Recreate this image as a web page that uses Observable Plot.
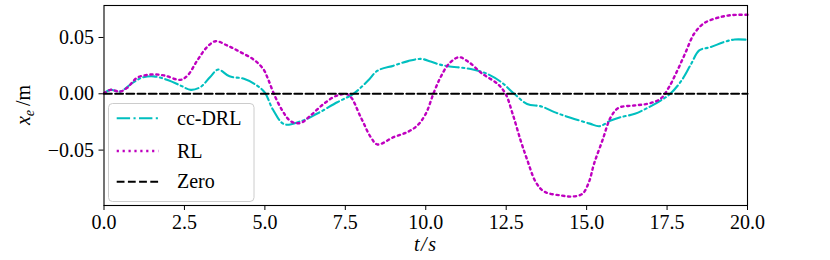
<!DOCTYPE html>
<html>
<head>
<meta charset="utf-8">
<script src="https://cdn.jsdelivr.net/npm/d3@7"></script>
<script src="https://cdn.jsdelivr.net/npm/@observablehq/plot@0.6"></script>
<style>
  html, body { margin: 0; padding: 0; background: white; }
</style>
</head>
<body>
<div id="chart"></div>
<script>
// ---- data ----
const ccT = [0, 0.2, 0.5, 0.9, 1.2, 1.55, 2.0, 2.4, 2.7, 3.0, 3.3, 3.55, 3.9, 4.35, 4.75, 5.0, 5.25, 5.6, 6.1, 6.6, 7.25, 7.75, 8.2, 8.5, 9.0, 9.45, 9.85, 10.15, 10.4, 10.7, 11.4, 11.9, 12.35, 12.75, 13.15, 13.6, 14.0, 14.5, 15.1, 15.4, 15.75, 16.05, 16.5, 16.9, 17.3, 17.6, 17.95, 18.25, 18.5, 18.85, 19.25, 19.6, 20.0];
const ccV = [0.0005, 0.0035, 0.002, 0.010, 0.0145, 0.0155, 0.012, 0.007, 0.0035, 0.006, 0.015, 0.0215, 0.0155, 0.0133, 0.0074, 0.001, -0.014, -0.027, -0.0245, -0.018, -0.0075, 0, 0.0115, 0.0205, 0.025, 0.029, 0.031, 0.0287, 0.0262, 0.0245, 0.022, 0.0178, 0.0103, 0, -0.009, -0.0113, -0.0163, -0.0213, -0.0265, -0.0288, -0.0237, -0.0208, -0.0178, -0.0124, -0.006, 0, 0.0118, 0.0266, 0.0385, 0.0414, 0.0458, 0.0482, 0.048];

const rlT = [0, 0.2, 0.5, 0.72, 1.03, 1.45, 1.86, 2.38, 2.6, 2.9, 3.2, 3.47, 3.83, 4.24, 4.66, 4.95, 5.1, 5.28, 5.54, 5.8, 6.1, 6.42, 6.83, 7.25, 7.6, 7.98, 8.29, 8.5, 9.0, 9.43, 9.74, 10.0, 10.25, 10.46, 10.72, 11.03, 11.34, 11.76, 12.23, 12.48, 12.7, 12.95, 13.16, 13.42, 13.68, 14.2, 14.56, 14.87, 15.07, 15.23, 15.49, 15.75, 16.0, 16.47, 16.89, 17.3, 17.56, 17.82, 18.08, 18.34, 18.65, 19.07, 19.48, 20.0];
const rlV = [0.0005, 0.0035, 0.002, 0.0053, 0.0142, 0.0171, 0.0163, 0.0124, 0.0163, 0.0296, 0.0414, 0.0467, 0.0429, 0.037, 0.0302, 0.022, 0.013, 0, -0.0148, -0.0243, -0.026, -0.0193, -0.0089, -0.0015, -0.001, -0.0208, -0.0385, -0.045, -0.0385, -0.034, -0.0281, -0.0178, 0.001, 0.0147, 0.0266, 0.0325, 0.0281, 0.0178, 0.0089, 0, -0.0178, -0.0415, -0.0592, -0.0785, -0.0868, -0.0903, -0.0912, -0.0888, -0.0785, -0.0622, -0.0415, -0.0208, -0.0124, -0.0104, -0.0089, -0.0044, 0.0059, 0.0207, 0.037, 0.0533, 0.0627, 0.0675, 0.0698, 0.0702];

const zeroT = [0, 20];
const zeroV = [0, 0];

const xTicks = [0, 2.5, 5, 7.5, 10, 12.5, 15, 17.5, 20];
const yTicks = [-0.05, 0, 0.05];

const seriesNames = ["cc-DRL", "RL", "Zero"];
const seriesColors = ["#00bfbf", "#bf00bf", "#000000"];
const seriesDash = ["13.4,3.4,2.1,3.4", "2.2,3.7", "7.8,3.4"];

// ---- tables built from arrays ----
const cc = ccT.map((t, i) => ({t, v: ccV[i]}));
const rl = rlT.map((t, i) => ({t, v: rlV[i]}));
const zero = zeroT.map((t, i) => ({t, v: zeroV[i]}));

const font = "'Liberation Serif', 'Times New Roman', 'DejaVu Serif', serif";

const chart = Plot.plot({
  width: 830,
  height: 260,
  marginLeft: 103.5,
  marginRight: 83,
  marginTop: 5,
  marginBottom: 55,
  style: {fontFamily: font, fontSize: "20px", background: "white", color: "black", overflow: "visible"},
  x: {domain: [0, 20], label: null},
  y: {domain: [-0.0992, 0.0784], label: null},
  marks: [
    Plot.axisX({ticks: xTicks, tickFormat: d3.format(".1f"), tickSize: 5, tickPadding: 4, label: null, stroke: "black", strokeWidth: 1}),
    Plot.axisY({ticks: yTicks, tickFormat: d3.format(".2f"), tickSize: 5, tickPadding: 5, label: null, stroke: "black", strokeWidth: 1}),
    Plot.line(cc, {x: "t", y: "v", curve: "catmull-rom", stroke: seriesColors[0], strokeWidth: 2.1, strokeDasharray: seriesDash[0]}),
    Plot.line(rl, {x: "t", y: "v", curve: "catmull-rom", stroke: seriesColors[1], strokeWidth: 2.4, strokeDasharray: seriesDash[1]}),
    Plot.line(zero, {x: "t", y: "v", stroke: seriesColors[2], strokeWidth: 2.1, strokeDasharray: seriesDash[2]}),
    Plot.frame({stroke: "black", strokeWidth: 1.1})
  ]
});

document.getElementById("chart").appendChild(chart);

const svg = d3.select(chart);

// y-axis label: x_e /m
const yl = svg.append("text")
  .attr("transform", "translate(30,105) rotate(-90)")
  .attr("text-anchor", "middle")
  .style("font-family", font)
  .style("font-size", "20px")
  .attr("fill", "black");
yl.append("tspan").style("font-style", "italic").text("x");
yl.append("tspan").style("font-style", "italic").style("font-size", "14px").attr("dy", 4).text("e");
yl.append("tspan").attr("dy", -4).text("\u2009/m");

// x-axis label: t/s
svg.append("text")
  .attr("x", 425).attr("y", 251)
  .attr("text-anchor", "middle")
  .style("font-family", font)
  .style("font-size", "20px")
  .style("font-style", "italic")
  .attr("fill", "black")
  .text("t\u200A/\u200As");

// legend
const lg = svg.append("g");
lg.append("rect")
  .attr("x", 108.5).attr("y", 103.5).attr("width", 145.5).attr("height", 98)
  .attr("rx", 4).attr("fill", "white").attr("fill-opacity", 0.8)
  .attr("stroke", "#cccccc").attr("stroke-width", 1);
const rowY = [118.3, 151, 181.7];
seriesNames.forEach((name, i) => {
  lg.append("line")
    .attr("x1", 116.7).attr("x2", 158.3).attr("y1", rowY[i]).attr("y2", rowY[i])
    .attr("stroke", seriesColors[i]).attr("stroke-width", i === 1 ? 2.4 : 2.1)
    .attr("stroke-dasharray", seriesDash[i]);
  lg.append("text")
    .attr("x", 177).attr("y", rowY[i]).attr("dy", "0.33em")
    .attr("text-anchor", "start")
    .style("font-family", font).style("font-size", "20px").attr("fill", "black")
    .text(name);
});
</script>
</body>
</html>
